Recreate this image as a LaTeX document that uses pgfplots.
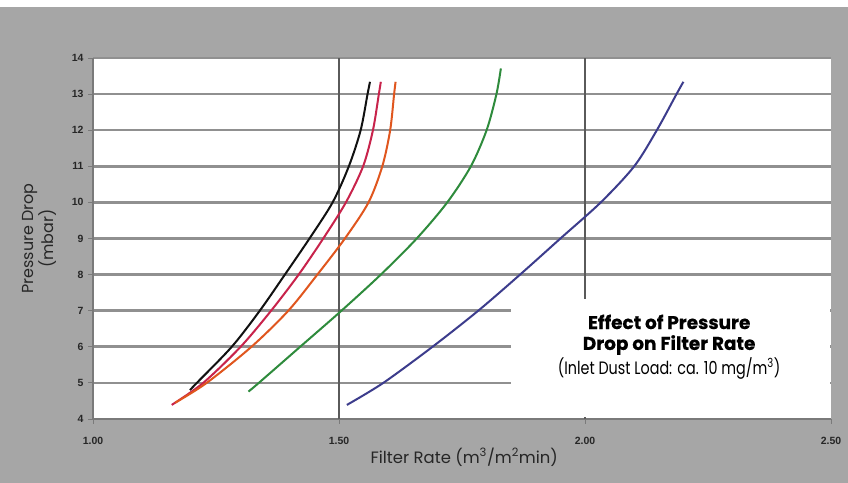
\documentclass[border=0pt]{standalone}
\usepackage{fontspec}
\setmainfont{Poppins}
\newfontfamily\tickfont{Liberation Sans}
\newfontfamily\condfont[FakeStretch=0.8]{Poppins}
\newfontfamily\heavyfont[BoldFeatures={FakeBold=0.6}]{Poppins}
\usepackage{pgfplots}
\pgfplotsset{compat=1.18}
\definecolor{bg}{HTML}{A6A6A6}
\definecolor{hgrid}{HTML}{909090}
\definecolor{vgrid}{HTML}{5A5A5A}
\definecolor{axgray}{HTML}{7A7A7A}
\definecolor{cblack}{HTML}{111111}
\definecolor{cred}{HTML}{C8234B}
\definecolor{corange}{HTML}{E0561E}
\definecolor{cgreen}{HTML}{2E8B3C}
\definecolor{cblue}{HTML}{3C3C8C}
\begin{document}
\begin{tikzpicture}
\fill[bg] (0,0) rectangle (848bp,483bp);
\fill[white] (0,476bp) rectangle (848bp,483bp);
\begin{axis}[
  at={(93bp,64bp)}, anchor=south west,
  scale only axis, width=738bp, height=361bp,
  xmin=1, xmax=2.5, ymin=4, ymax=14,
  axis background/.style={fill=white},
  axis lines*=left,
  axis line style={axgray, line width=1.8bp},
  xtick={1,1.5,2,2.5},
  xticklabels={1.00,1.50,2.00,2.50},
  ytick={4,5,...,14},
  ymajorgrids,
  y grid style={hgrid, line width=2.6bp},
  extra x ticks={1.5,2},
  extra x tick labels={},
  extra x tick style={xmajorgrids=true, x grid style={vgrid, line width=1.2bp}},
  tick align=outside,
  major tick length=5bp,
  tick style={axgray, line width=0.9bp},
  /pgf/number format/assume math mode=true,
  ticklabel style={font=\tickfont\bfseries\fontsize{10.5}{10.5}\selectfont, text=black!85},
  xticklabel style={yshift=-10bp},
  yticklabel style={xshift=-1bp},
  xlabel={Filter Rate (m\textsuperscript{3}/m\textsuperscript{2}min)},
  xlabel style={at={(axis description cs:0.503,-0.105)}, anchor=center, font=\fontsize{16.5}{19}\selectfont, text=black!85},
  ylabel={Pressure Drop\\(mbar)},
  ylabel style={at={(axis description cs:-0.072,0.5)}, anchor=center, rotate=0, align=center, font=\fontsize{16}{20}\selectfont, text=black!85},
  clip=false,
]
\addplot[cblack, line width=2bp, smooth] coordinates {
 (1.197,4.80) (1.211,5) (1.282,6) (1.339,7) (1.390,8) (1.440,9) (1.487,10) (1.520,11) (1.544,12) (1.558,13) (1.563,13.34)};
\addplot[cred, line width=2bp, smooth] coordinates {
 (1.160,4.39) (1.224,5) (1.300,6) (1.362,7) (1.418,8) (1.468,9) (1.514,10) (1.549,11) (1.569,12) (1.581,13) (1.585,13.34)};
\addplot[corange, line width=2bp, smooth] coordinates {
 (1.167,4.45) (1.231,5) (1.322,6) (1.397,7) (1.456,8) (1.512,9) (1.560,10) (1.588,11) (1.604,12) (1.612,13) (1.615,13.34)};
\addplot[cgreen, line width=2bp, smooth] coordinates {
 (1.316,4.76) (1.337,5) (1.421,6) (1.505,7) (1.585,8) (1.658,9) (1.720,10) (1.768,11) (1.800,12) (1.820,13) (1.829,13.71)};
\addplot[cblue, line width=2bp, smooth] coordinates {
 (1.516,4.39) (1.590,5) (1.690,6) (1.783,7) (1.868,8) (1.950,9) (2.032,10) (2.100,11) (2.146,12) (2.186,13) (2.200,13.34)};
\fill[white] (axis cs:1.85,4.06) rectangle (axis cs:2.497,7.32);
\node[font=\heavyfont\bfseries\fontsize{18.5}{18.5}\selectfont] at (axis cs:2.171,6.69) {Effect of Pressure};
\node[font=\heavyfont\bfseries\fontsize{18.5}{18.5}\selectfont] at (axis cs:2.171,6.05) {Drop on Filter Rate};
\node[font=\condfont\fontsize{18}{18}\selectfont] at (axis cs:2.171,5.41) {(Inlet Dust Load: ca. 10 mg/m\textsuperscript{3})};
\end{axis}
\end{tikzpicture}
\end{document}
